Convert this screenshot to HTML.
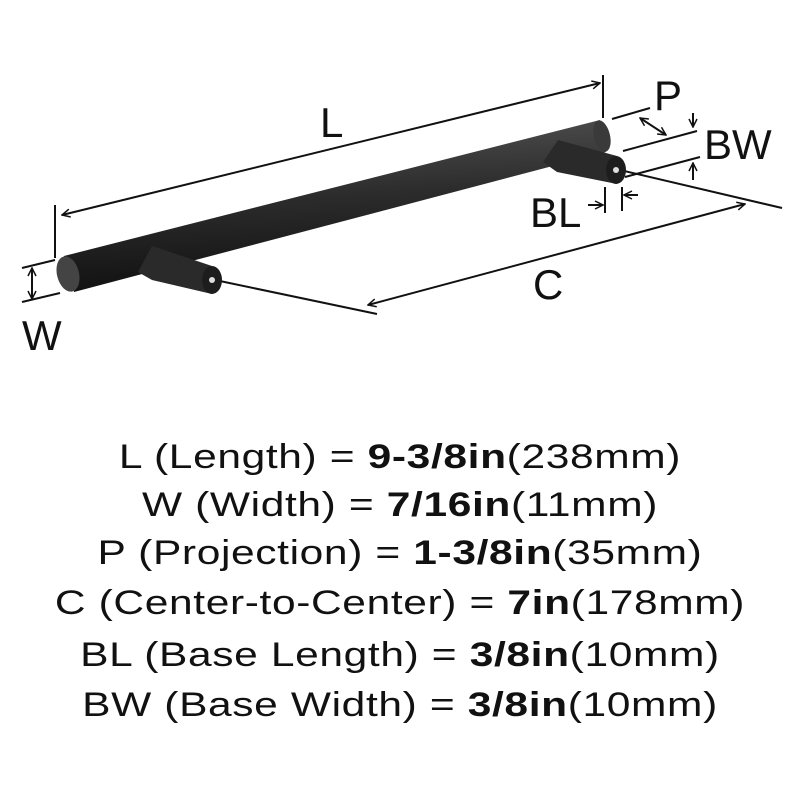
<!DOCTYPE html>
<html><head><style>
body{margin:0;background:#fff;width:800px;height:800px;overflow:hidden;font-family:"Liberation Sans",sans-serif}
.t{position:absolute;left:0;width:800px;text-align:center;font-size:34px;color:#111;letter-spacing:0.5px;transform:scaleX(1.25);transform-origin:400px 0}
b{font-weight:bold}
</style></head><body>
<svg width="800" height="800" style="position:absolute;left:0;top:0">
<defs>
<linearGradient id="g" x1="0" y1="0" x2="0.15" y2="1"><stop offset="0" stop-color="#555"/><stop offset="0.5" stop-color="#2c2c2c"/><stop offset="1" stop-color="#111"/></linearGradient>
<marker id="a" markerWidth="10" markerHeight="10" refX="9" refY="5" orient="auto-start-reverse" markerUnits="userSpaceOnUse"><path d="M1,1 L9,5 L1,9" fill="none" stroke="#111" stroke-width="1.5"/></marker>
</defs>
<g stroke="#111" stroke-width="2" fill="none">
<line x1="55" y1="205" x2="55" y2="258"/>
<line x1="603" y1="75" x2="603" y2="118"/>
<line x1="62" y1="215" x2="600" y2="83" marker-start="url(#a)" marker-end="url(#a)"/>
<line x1="22" y1="268" x2="55" y2="260"/>
<line x1="22" y1="302" x2="60" y2="293"/>
<line x1="32" y1="268" x2="32" y2="299" marker-start="url(#a)" marker-end="url(#a)"/>
<line x1="215" y1="280" x2="377" y2="314"/>
<line x1="620" y1="170" x2="782" y2="208"/>
<line x1="368" y1="305" x2="745" y2="204" marker-start="url(#a)" marker-end="url(#a)"/>
<line x1="612" y1="119" x2="650" y2="108"/>
<line x1="623" y1="151" x2="697" y2="131"/>
<line x1="625" y1="177" x2="700" y2="157"/>
<line x1="640" y1="118" x2="666" y2="135" marker-start="url(#a)" marker-end="url(#a)"/>
<line x1="693" y1="113" x2="693" y2="127" marker-end="url(#a)"/>
<line x1="693" y1="180" x2="693" y2="163" marker-end="url(#a)"/>
<line x1="605" y1="187" x2="605" y2="213"/>
<line x1="622" y1="187" x2="622" y2="211"/>
<line x1="588" y1="205" x2="603" y2="205" marker-end="url(#a)"/>
<line x1="638" y1="195" x2="624" y2="195" marker-end="url(#a)"/>
</g>
<polygon points="64,256 600,120 606,152 74,292" fill="url(#g)"/>
<ellipse cx="602" cy="136" rx="8" ry="16" fill="#3a3a3a" transform="rotate(-14 602 136)"/>
<ellipse cx="68" cy="274" rx="11" ry="18" fill="#444" transform="rotate(-14 68 274)"/>
<polygon points="152,246 212,266 212,294 152,280 138,272" fill="#2a2a2a"/>
<ellipse cx="212" cy="280" rx="10" ry="14" fill="#1d1d1d"/>
<circle cx="212" cy="280" r="3" fill="#ddd"/>
<polygon points="558,140 617,156 617,184 557,172 543,162" fill="#2a2a2a"/>
<ellipse cx="616" cy="170" rx="10" ry="14" fill="#1d1d1d"/>
<circle cx="616" cy="170" r="3" fill="#ddd"/>
<g font-family="Liberation Sans" font-size="42" fill="#111">
<text x="320" y="137">L</text>
<text x="22" y="350">W</text>
<text x="533" y="299">C</text>
<text x="654" y="110">P</text>
<text x="704" y="159">BW</text>
<text x="530" y="227">BL</text>
</g>
</svg>
<div class="t" style="top:438px">L (Length) = <b>9-3/8in</b>(238mm)</div>
<div class="t" style="top:486px">W (Width) = <b>7/16in</b>(11mm)</div>
<div class="t" style="top:534px">P (Projection) = <b>1-3/8in</b>(35mm)</div>
<div class="t" style="top:584px">C (Center-to-Center) = <b>7in</b>(178mm)</div>
<div class="t" style="top:636px">BL (Base Length) = <b>3/8in</b>(10mm)</div>
<div class="t" style="top:686px">BW (Base Width) = <b>3/8in</b>(10mm)</div>
</body></html>
